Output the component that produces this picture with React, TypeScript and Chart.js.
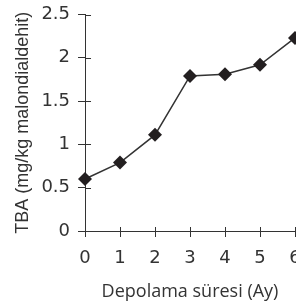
import React, { useEffect, useRef } from "react";
import { Chart, registerables } from "chart.js";

Chart.register(...registerables);

const months = [0, 1, 2, 3, 4, 5, 6];
const tbaValues = [0.6, 0.79, 1.11, 1.79, 1.81, 1.92, 2.23];
const xTitle = "Depolama süresi (Ay)";
const yTitle = "TBA (mg/kg malondialdehit)";

const inwardTicks = {
  id: "inwardTicks",
  afterDatasetsDraw(chart: any) {
    const { ctx, scales } = chart;
    const xs = scales.x;
    const ys = scales.y;
    ctx.save();
    ctx.strokeStyle = "#333";
    ctx.lineWidth = 1;
    ctx.beginPath();
    ys.ticks.forEach((t: any) => {
      const py = Math.round(ys.getPixelForValue(t.value)) + 0.5;
      ctx.moveTo(xs.left, py);
      ctx.lineTo(xs.left + 6, py);
    });
    xs.ticks.forEach((t: any) => {
      const px = Math.round(xs.getPixelForValue(t.value)) + 0.5;
      ctx.moveTo(px, ys.bottom);
      ctx.lineTo(px, ys.bottom - 4);
    });
    ctx.stroke();
    ctx.restore();
  },
};

export default function App() {
  const ref = useRef<HTMLCanvasElement>(null);
  useEffect(() => {
    const chart = new Chart(ref.current!, {
      type: "line",
      data: {
        datasets: [
          {
            data: months.map((m, i) => ({ x: m, y: tbaValues[i] })),
            borderColor: "#333",
            borderWidth: 1.5,
            pointStyle: "rectRot",
            pointRadius: 7,
            pointBackgroundColor: "#231f20",
            pointBorderColor: "#231f20",
            pointBorderWidth: 0,
            tension: 0,
            clip: false,
          },
        ],
      },
      plugins: [inwardTicks],
      options: {
        responsive: false,
        animation: false,
        layout: { padding: { left: 11.8, top: 0, right: 1, bottom: 2.8 } },
        plugins: { legend: { display: false }, tooltip: { enabled: false } },
        scales: {
          x: {
            type: "linear",
            min: 0,
            max: 6,
            afterFit: (s: any) => {
              s.paddingRight = 0;
            },
            grid: { drawOnChartArea: false, drawTicks: true, tickLength: 6, color: "#333" },
            border: { display: true, color: "#333", width: 1 },
            ticks: {
              stepSize: 1,
              padding: 11,
              color: "#333",
              font: { family: "DejaVu Sans", size: 18 },
              maxRotation: 0,
            },
            title: {
              display: true,
              text: xTitle,
              color: "#333",
              font: { family: "Open Sans", size: 18 },
              padding: { top: 0, bottom: 0 },
            },
          },
          y: {
            type: "linear",
            min: 0,
            max: 2.5,
            afterFit: (s: any) => {
              s.paddingTop = 14.5;
            },
            grid: { drawOnChartArea: false, drawTicks: true, tickLength: 7, color: "#333" },
            border: { display: true, color: "#333", width: 1 },
            ticks: {
              stepSize: 0.5,
              padding: 8,
              color: "#333",
              font: { family: "DejaVu Sans", size: 18 },
              callback: (v: any) => String(v),
            },
            title: {
              display: true,
              text: yTitle,
              color: "#333",
              font: { family: "Liberation Sans", size: 18 },
              padding: { top: 0, bottom: 0 },
            },
          },
        },
      },
    });
    return () => chart.destroy();
  }, []);
  return (
    <div style={{ position: "fixed", left: 0, top: 0, width: 296, height: 305, overflow: "hidden" }}>
      <canvas ref={ref} width={302} height={305} style={{ display: "block", width: 302, height: 305 }} />
    </div>
  );
}
